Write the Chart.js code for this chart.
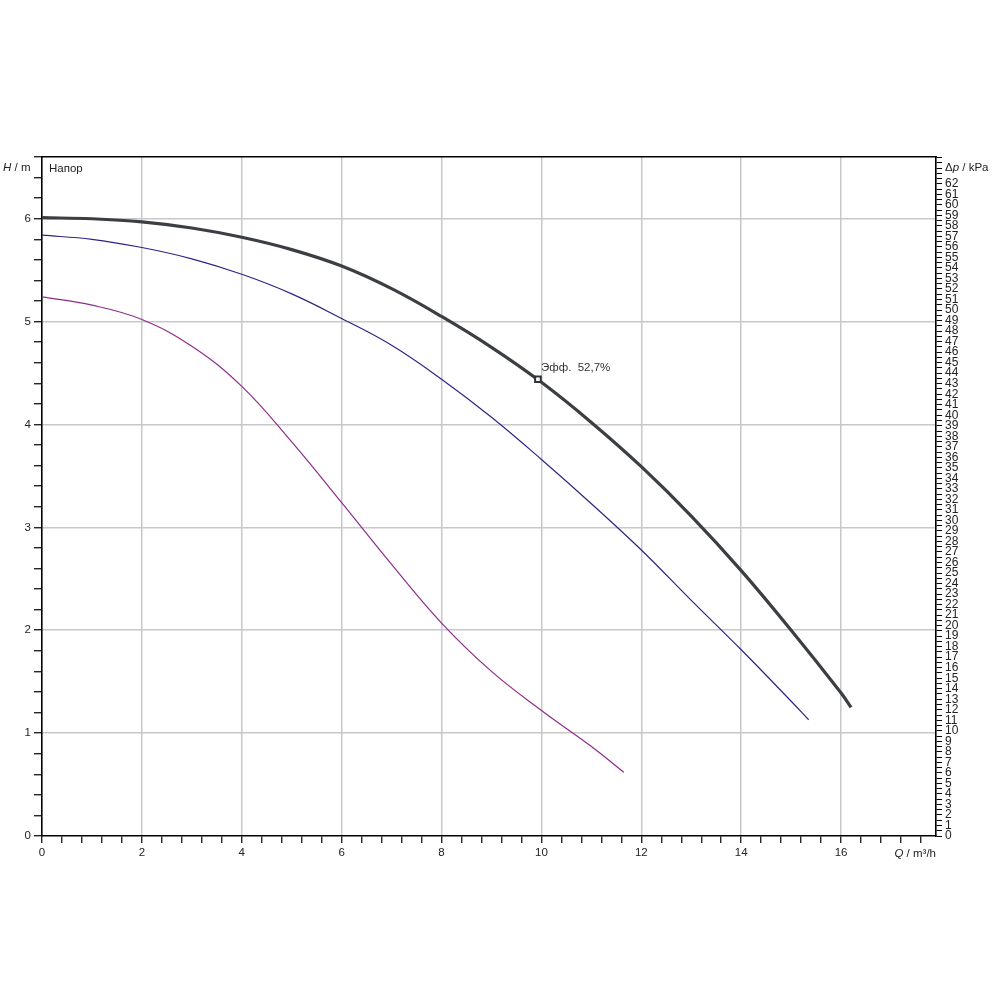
<!DOCTYPE html>
<html><head><meta charset="utf-8">
<script src="https://cdn.jsdelivr.net/npm/chart.js@4/dist/chart.umd.min.js"></script>
<style>html,body{margin:0;padding:0;background:#fff}</style>
</head><body>
<canvas id="c" width="1000" height="1000"></canvas>
<script>
// ---- data ----
const qMax = 17.9;          // m³/h, right edge of plot
const hMax = 6.6;           // m, top edge of plot
const kpaPerM = 9.78;       // Δp scale factor
const xMajorStep = 2, xMinorStep = 0.4;
const yMajorStep = 1, yMinorStep = 0.2;
const kpaLabelStep = 1, kpaMinorStep = 0.5, kpaLabelMax = 62;

const maxQ = [0, 1, 2, 3, 4, 5, 6, 7, 8, 9, 10, 11, 12, 13, 14, 15, 16, 16.2];
const maxH = [6.01, 6.00, 5.97, 5.91, 5.82, 5.70, 5.54, 5.32, 5.05, 4.75, 4.41, 4.02, 3.59, 3.11, 2.58, 2.00, 1.39, 1.25];

const midQ = [0, 1, 2, 3, 4, 5, 6, 7, 8, 9, 10, 11, 12, 13, 14, 15, 15.35];
const midH = [5.84, 5.80, 5.72, 5.61, 5.46, 5.27, 5.03, 4.77, 4.44, 4.07, 3.66, 3.23, 2.78, 2.29, 1.81, 1.31, 1.13];

const minQ = [0, 1, 2, 3, 4, 5, 6, 7, 8, 9, 10, 11, 11.65];
const minH = [5.24, 5.16, 5.02, 4.76, 4.37, 3.83, 3.24, 2.64, 2.07, 1.60, 1.22, 0.87, 0.62];

const effQ = [9.93];
const effH = [4.44];
const effLabel = 'Эфф.  52,7%';

const leftTitle = ['H', ' / m'];
const innerTitle = 'Напор';
const rightTitle = ['Δ', 'p', ' / kPa'];
const bottomTitle = ['Q', ' / m³/h'];

// ---- helpers ----
const pts = (xs, ys) => xs.map((x, i) => ({x, y: ys[i]}));
const isMult = (v, s) => Math.abs(v / s - Math.round(v / s)) < 1e-6;
const FONT = 'Liberation Sans, Arial, sans-serif';
const gridGray = '#c8c8c8';

const textPlugin = {
  id: 'texts',
  afterDraw(chart) {
    const c = chart.ctx;
    c.save();
    c.fillStyle = '#222';
    c.textBaseline = 'middle';
    c.textAlign = 'left';
    const seq = (parts, italics, x, y) => {
      parts.forEach((p, i) => {
        c.font = (italics[i] ? 'italic ' : '') + '11.5px ' + FONT;
        c.fillText(p, x, y);
        x += c.measureText(p).width;
      });
    };
    seq(leftTitle, [true, false], 3, 168);
    c.font = '11.5px ' + FONT;
    c.fillText(innerTitle, 49, 169);
    seq(rightTitle, [false, true, false], 945, 168);
    c.font = 'italic 11.5px ' + FONT;
    const w1 = c.measureText(bottomTitle[0]).width;
    c.font = '11.5px ' + FONT;
    const w2 = c.measureText(bottomTitle[1]).width;
    seq(bottomTitle, [true, false], chart.chartArea.right - w1 - w2, 854);
    const xs = chart.scales.x, ys = chart.scales.y;
    c.font = '11.5px ' + FONT;
    c.fillStyle = '#333';
    c.fillText(effLabel, xs.getPixelForValue(effQ[0]) + 3, ys.getPixelForValue(effH[0]) - 11);
    c.restore();
  }
};

new Chart(document.getElementById('c'), {
  type: 'line',
  data: {
    datasets: [
      {data: pts(effQ, effH), showLine: false, pointStyle: 'rect', pointRadius: 4,
       pointBorderWidth: 2, pointBorderColor: '#2f3236', pointBackgroundColor: '#fff', order: -1},
      {data: pts(maxQ, maxH), borderColor: '#3b3f43', borderWidth: 3.2, pointRadius: 0,
       tension: 0.4, order: 1},
      {data: pts(midQ, midH), borderColor: '#2e2486', borderWidth: 1.2, pointRadius: 0,
       tension: 0.4, order: 2},
      {data: pts(minQ, minH), borderColor: '#8e2c8c', borderWidth: 1.2, pointRadius: 0,
       tension: 0.4, order: 3}
    ]
  },
  options: {
    responsive: false,
    animation: false,
    devicePixelRatio: 1,
    layout: {padding: 0},
    plugins: {legend: {display: false}, tooltip: {enabled: false}},
    scales: {
      x: {
        type: 'linear', position: 'bottom', min: 0, max: qMax,
        afterFit(s) { s.height = 164; },
        ticks: {
          stepSize: xMinorStep, autoSkip: false, maxRotation: 0, includeBounds: false,
          maxTicksLimit: 200, padding: 3, color: '#222', font: {family: FONT, size: 11.5},
          callback: v => (isMult(v, xMajorStep) && v <= 16.001) ? String(Math.round(v)) : ''
        },
        grid: {
          color: ctx => (ctx.tick && isMult(ctx.tick.value, xMajorStep) && ctx.tick.value > 0) ? gridGray : 'rgba(0,0,0,0)',
          lineWidth: 1.5, tickColor: '#000', tickWidth: 1.2, tickLength: 7
        },
        border: {display: true, color: '#000', width: 1.6}
      },
      xTop: {
        type: 'linear', position: 'top', min: 0, max: qMax,
        afterFit(s) { s.height = 157; },
        ticks: {display: false}, grid: {display: false},
        border: {display: true, color: '#000', width: 1.6}
      },
      y: {
        type: 'linear', position: 'left', min: 0, max: hMax,
        afterFit(s) { s.width = 42; },
        ticks: {
          stepSize: yMinorStep, autoSkip: false, includeBounds: false, maxTicksLimit: 200,
          padding: 3, color: '#222', font: {family: FONT, size: 11.5},
          callback: v => isMult(v, yMajorStep) ? String(Math.round(v)) : ''
        },
        grid: {
          color: ctx => (ctx.tick && isMult(ctx.tick.value, yMajorStep) && ctx.tick.value > 0) ? gridGray : 'rgba(0,0,0,0)',
          lineWidth: 1.5, tickColor: '#000', tickWidth: 1.2, tickLength: 8
        },
        border: {display: true, color: '#000', width: 1.6}
      },
      y2: {
        type: 'linear', position: 'right', min: 0, max: hMax * kpaPerM,
        afterFit(s) { s.width = 64; },
        ticks: {
          stepSize: kpaMinorStep, autoSkip: false, includeBounds: false, maxTicksLimit: 300,
          padding: 3, color: '#222', font: {family: FONT, size: 12},
          callback: v => (isMult(v, kpaLabelStep) && v <= kpaLabelMax + 0.001) ? String(Math.round(v)) : ''
        },
        grid: {drawOnChartArea: false, color: '#000', tickColor: '#000', tickWidth: 1, tickLength: 6},
        border: {display: true, color: '#000', width: 1.6}
      }
    }
  },
  plugins: [textPlugin]
});
</script>
</body></html>
